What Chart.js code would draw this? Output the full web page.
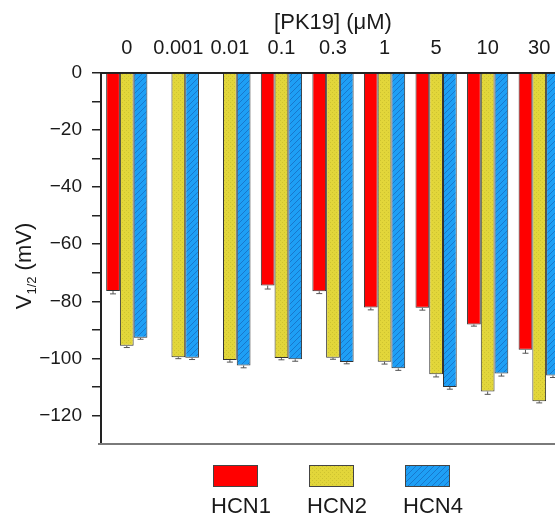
<!DOCTYPE html>
<html lang="en">
<head>
<meta charset="UTF-8">
<title>[PK19] V1/2</title>
<style>
  html, body { margin: 0; padding: 0; background: #fff; overflow: hidden; }
  .chart-wrap { position: relative; width: 580px; height: 520px; }
</style>
</head>
<body>
<div class="chart-wrap"><canvas id="grafico"></canvas></div>

<script src="https://cdn.jsdelivr.net/npm/chart.js"></script>
<script>
  const concentracoes = ['0', '0.001', '0.01', '0.1', '0.3', '1', '5', '10', '30'];
  const hcn1 = [-76.4, null, null, -74.5, -76.5, -82.2, -82.3, -88.1, -97.0];
  const hcn2 = [-95.6, -99.6, -100.6, -99.9, -99.8, -101.2, -105.6, -111.6, -115.0];
  const hcn4 = [-92.8, -99.8, -102.5, -100.3, -101.3, -103.5, -110.0, -105.3, -106.0];
  const erroHcn1 = [1.0, null, null, 1.2, 0.8, 0.8, 0.8, 0.6, 1.2];
  const erroHcn2 = [0.6, 0.5, 0.7, 0.6, 0.5, 0.8, 0.9, 1.0, 0.6];
  const erroHcn4 = [0.5, 0.6, 0.8, 0.7, 0.6, 0.7, 0.8, 0.9, 0.7];
  const nomesSeries = ['HCN1', 'HCN2', 'HCN4'];

  const FONTE = '"Liberation Sans", Arial, sans-serif';
  const COR_TEXTO = '#1a1a1a';

  // padroes de preenchimento (amarelo pontilhado, azul hachurado)
  function padraoAmarelo(ctx) {
    const c = document.createElement('canvas');
    c.width = 4; c.height = 4;
    const g = c.getContext('2d');
    g.fillStyle = '#e2d63a';
    g.fillRect(0, 0, 4, 4);
    g.fillStyle = '#cec330';
    g.fillRect(0, 0, 1, 1);
    g.fillRect(2, 2, 1, 1);
    return ctx.createPattern(c, 'repeat');
  }

  function padraoAzul(ctx) {
    const c = document.createElement('canvas');
    c.width = 6; c.height = 6;
    const g = c.getContext('2d');
    g.fillStyle = '#1e9ff5';
    g.fillRect(0, 0, 6, 6);
    g.strokeStyle = '#1878cc';
    g.lineWidth = 1;
    g.beginPath();
    g.moveTo(0, 6); g.lineTo(6, 0);
    g.moveTo(-1, 1); g.lineTo(1, -1);
    g.moveTo(5, 7); g.lineTo(7, 5);
    g.stroke();
    return ctx.createPattern(c, 'repeat');
  }

  const ctx = document.getElementById('grafico').getContext('2d');
  const preenchimentos = ['#ff0000', padraoAmarelo(ctx), padraoAzul(ctx)];
  const erros = [erroHcn1, erroHcn2, erroHcn4];

  const pluginErros = {
    id: 'barrasErro',
    afterDatasetsDraw(chart) {
      const c = chart.ctx;
      const y = chart.scales.y;
      c.save();
      c.strokeStyle = '#555';
      c.lineWidth = 1;
      chart.data.datasets.forEach((ds, i) => {
        const meta = chart.getDatasetMeta(i);
        meta.data.forEach((barra, j) => {
          const v = ds.data[j];
          const e = erros[i][j];
          if (v == null || e == null) return;
          const y1 = y.getPixelForValue(v);
          const y2 = y.getPixelForValue(v - e);
          c.beginPath();
          c.moveTo(barra.x, y1);
          c.lineTo(barra.x, y2);
          c.moveTo(barra.x - 3, y2);
          c.lineTo(barra.x + 3, y2);
          c.stroke();
        });
      });
      c.restore();
    }
  };

  const pluginMoldura = {
    id: 'moldura',
    afterDraw(chart) {
      const { left, right, bottom } = chart.chartArea;
      const c = chart.ctx;
      c.save();
      c.strokeStyle = '#7a7a7a';
      c.lineWidth = 2;
      c.beginPath();
      c.moveTo(left - 3, bottom);
      c.lineTo(right, bottom);
      c.stroke();
      c.restore();
    }
  };

  const pluginTituloY = {
    id: 'tituloY',
    afterDraw(chart) {
      const c = chart.ctx;
      const partes = [
        { t: 'V', f: '22px ' + FONTE, dy: 0 },
        { t: '1/2', f: '13px ' + FONTE, dy: 5 },
        { t: ' (mV)', f: '22px ' + FONTE, dy: 0 }
      ];
      c.save();
      c.fillStyle = COR_TEXTO;
      c.textBaseline = 'alphabetic';
      let total = 0;
      partes.forEach(p => { c.font = p.f; p.w = c.measureText(p.t).width; total += p.w; });
      c.translate(31, 266);
      c.rotate(-Math.PI / 2);
      let x = -total / 2;
      partes.forEach(p => {
        c.font = p.f;
        c.fillText(p.t, x, p.dy);
        x += p.w;
      });
      c.restore();
    }
  };

  const pluginLegenda = {
    id: 'legendaHcn',
    afterDraw(chart) {
      const c = chart.ctx;
      const { left, right, bottom } = chart.chartArea;
      const cx = (left + right) / 2;
      const x0 = cx - 120;
      c.save();
      chart.data.datasets.forEach((ds, i) => {
        const x = x0 + i * 96;
        const yb = bottom + 21;
        c.fillStyle = ds.backgroundColor;
        c.fillRect(x, yb, 45, 22);
        c.strokeStyle = '#444';
        c.lineWidth = 1;
        c.strokeRect(x + 0.5, yb + 0.5, 44, 21);
        c.fillStyle = COR_TEXTO;
        c.font = '22px ' + FONTE;
        c.textBaseline = 'middle';
        c.textAlign = 'left';
        c.fillText(ds.label, x - 2, yb + 42);
      });
      c.restore();
    }
  };

  new Chart(ctx, {
    type: 'bar',
    data: {
      labels: concentracoes,
      datasets: [hcn1, hcn2, hcn4].map((dados, i) => ({
        label: nomesSeries[i],
        data: dados,
        backgroundColor: preenchimentos[i],
        borderColor: '#333',
        borderWidth: 1,
        categoryPercentage: 0.8,
        barPercentage: 1.0
      }))
    },
    options: {
      responsive: true,
      maintainAspectRatio: false,
      animation: false,
      layout: { padding: { top: 0, left: 0, right: 15, bottom: 76 } },
      plugins: {
        legend: { display: false },
        tooltip: { enabled: false }
      },
      scales: {
        x: {
          position: 'top',
          grid: { display: false },
          border: { display: true, color: '#222', width: 2 },
          ticks: {
            color: COR_TEXTO,
            font: { family: FONTE, size: 20 },
            padding: 5,
            maxRotation: 0,
            autoSkip: false
          },
          title: {
            display: true,
            text: '[PK19] (\u03bcM)',
            color: COR_TEXTO,
            font: { family: FONTE, size: 22 },
            padding: { top: 10, bottom: 0 }
          },
          afterFit: s => { s.height = 73; }
        },
        y: {
          min: -130,
          max: 0,
          grid: {
            drawOnChartArea: false,
            drawTicks: true,
            tickLength: 9,
            lineWidth: 1.5,
            color: c => (c.tick && c.tick.value === -130 ? 'rgba(0,0,0,0)' : '#222')
          },
          border: { display: true, color: '#222', width: 2 },
          ticks: {
            stepSize: 10,
            color: COR_TEXTO,
            font: { family: FONTE, size: 19 },
            padding: 10,
            callback: v => (v % 20 === 0 ? (v < 0 ? '\u2212' + Math.abs(v) : String(v)) : '')
          },
          afterFit: s => { s.width = 101; }
        }
      }
    },
    plugins: [pluginErros, pluginMoldura, pluginTituloY, pluginLegenda]
  });
</script>
</body>
</html>
